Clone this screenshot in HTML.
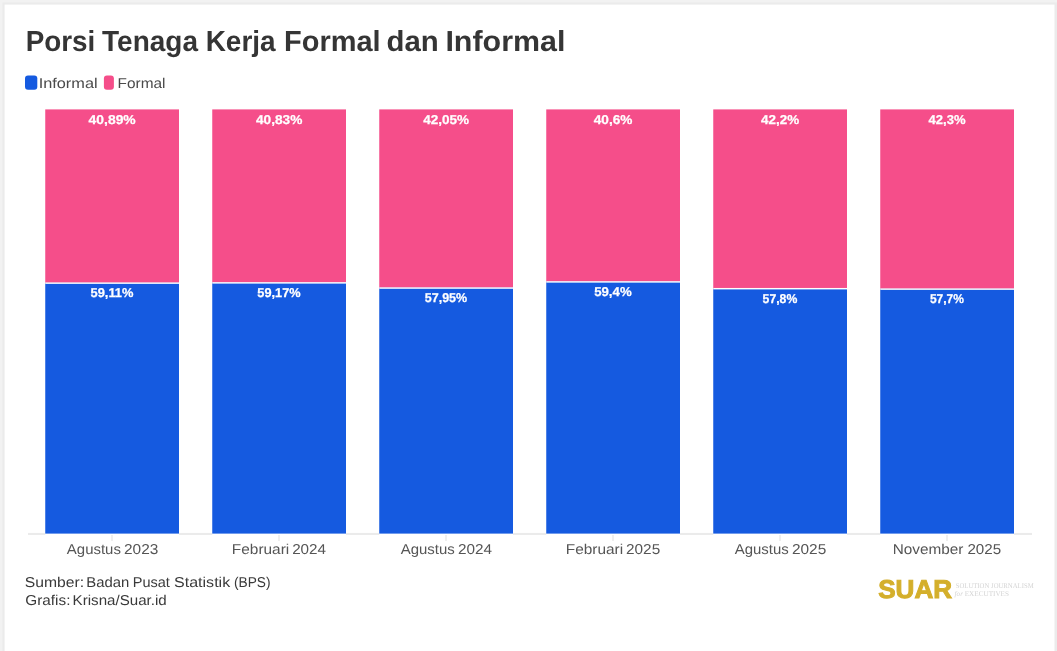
<!DOCTYPE html>
<html><head><meta charset="utf-8"><title>Porsi Tenaga Kerja Formal dan Informal</title>
<style>
html,body{margin:0;padding:0;}
body{width:1057px;height:651px;overflow:hidden;background:#f2f2f2;position:relative;font-family:"Liberation Sans",sans-serif;}
.t{position:absolute;white-space:nowrap;line-height:1;transform-origin:0 0;}
.wrap{position:absolute;left:0;top:0;width:1057px;height:651px;will-change:transform;text-rendering:geometricPrecision;}
.title{font-weight:bold;color:#353535;}
.leg{color:#4a4a4a;}
.lab{font-weight:bold;color:#fff;-webkit-text-stroke:0.25px #fff;}
.xl{color:#555;}
.foot{color:#3a3a3a;}
.suar{font-weight:bold;color:#d4af2b;-webkit-text-stroke:1px #d4af2b;}
.tag{font-family:"Liberation Serif",serif;color:#d4d4d4;}
</style></head><body>
<svg width="1057" height="651" viewBox="0 0 1057 651" style="position:absolute;left:0;top:0;">
<rect x="2.4" y="2.4" width="1060" height="660" fill="#ebebeb"/>
<rect x="4.6" y="4.6" width="1049.9" height="660" fill="#fff"/>
<rect x="25" y="75.4" width="12.3" height="14.4" rx="3" ry="3" fill="#155ae0"/>
<rect x="103.9" y="75.4" width="10" height="14.4" rx="3" ry="3" fill="#f54e8a"/>
<rect x="28" y="532.95" width="1004" height="2" fill="#ebebeb"/>
<rect x="45.25" y="532.60" width="133.75" height="3" fill="#fff"/>
<rect x="45.25" y="109.4" width="133.75" height="173.96" fill="#f54e8a"/>
<rect x="45.25" y="282.86" width="133.75" height="250.74" fill="#155ae0"/>
<rect x="45.25" y="282.41" width="133.75" height="1.45" fill="#fff"/>
<rect x="111.03" y="535" width="2" height="6" fill="#efefef"/>
<rect x="212.25" y="532.60" width="133.75" height="3" fill="#fff"/>
<rect x="212.25" y="109.4" width="133.75" height="173.70" fill="#f54e8a"/>
<rect x="212.25" y="282.60" width="133.75" height="251.00" fill="#155ae0"/>
<rect x="212.25" y="282.15" width="133.75" height="1.45" fill="#fff"/>
<rect x="278.02" y="535" width="2" height="6" fill="#efefef"/>
<rect x="379.25" y="532.60" width="133.75" height="3" fill="#fff"/>
<rect x="379.25" y="109.4" width="133.75" height="178.88" fill="#f54e8a"/>
<rect x="379.25" y="287.78" width="133.75" height="245.82" fill="#155ae0"/>
<rect x="379.25" y="287.33" width="133.75" height="1.45" fill="#fff"/>
<rect x="445.02" y="535" width="2" height="6" fill="#efefef"/>
<rect x="546.25" y="532.60" width="133.75" height="3" fill="#fff"/>
<rect x="546.25" y="109.4" width="133.75" height="172.73" fill="#f54e8a"/>
<rect x="546.25" y="281.63" width="133.75" height="251.97" fill="#155ae0"/>
<rect x="546.25" y="281.18" width="133.75" height="1.45" fill="#fff"/>
<rect x="612.02" y="535" width="2" height="6" fill="#efefef"/>
<rect x="713.25" y="532.60" width="133.75" height="3" fill="#fff"/>
<rect x="713.25" y="109.4" width="133.75" height="179.51" fill="#f54e8a"/>
<rect x="713.25" y="288.41" width="133.75" height="245.19" fill="#155ae0"/>
<rect x="713.25" y="287.96" width="133.75" height="1.45" fill="#fff"/>
<rect x="779.02" y="535" width="2" height="6" fill="#efefef"/>
<rect x="880.25" y="532.60" width="133.75" height="3" fill="#fff"/>
<rect x="880.25" y="109.4" width="133.75" height="179.94" fill="#f54e8a"/>
<rect x="880.25" y="288.84" width="133.75" height="244.76" fill="#155ae0"/>
<rect x="880.25" y="288.39" width="133.75" height="1.45" fill="#fff"/>
<rect x="946.02" y="535" width="2" height="6" fill="#efefef"/>
</svg>
<div class="wrap">
<div class="t title" id="tw0" style="left:0;top:28px;font-size:29.0px;transform:translateX(25.68px) scaleX(0.9597);">Porsi</div>
<div class="t title" id="tw1" style="left:0;top:28px;font-size:29.0px;transform:translateX(102.06px) scaleX(0.9649);">Tenaga</div>
<div class="t title" id="tw2" style="left:0;top:28px;font-size:29.0px;transform:translateX(205.67px) scaleX(0.9646);">Kerja</div>
<div class="t title" id="tw3" style="left:0;top:28px;font-size:29.0px;transform:translateX(284.10px) scaleX(0.9985);">Formal</div>
<div class="t title" id="tw4" style="left:0;top:28px;font-size:29.0px;transform:translateX(386.46px) scaleX(1.0119);">dan</div>
<div class="t title" id="tw5" style="left:0;top:28px;font-size:29.0px;transform:translateX(445.40px) scaleX(1.0491);">Informal</div>
<div class="t leg" id="leg1" style="left:0;top:77px;font-size:14.2px;transform:translateX(38.68px) scaleX(1.1491);">Informal</div>
<div class="t leg" id="leg2" style="left:0;top:77px;font-size:14.2px;transform:translateX(117.56px) scaleX(1.0859);">Formal</div>
<div class="t lab" id="f0" style="left:0;top:114px;font-size:12.8px;transform:translateX(88.62px) scaleX(1.0847);">40,89%</div>
<div class="t lab" id="i0" style="left:0;top:287px;font-size:12.8px;transform:translateX(90.54px) scaleX(1.0055);">59,11%</div>
<div class="t xl" id="x0a" style="left:0;top:543px;font-size:14.3px;transform:translateX(66.85px) scaleX(1.0462);">Agustus</div>
<div class="t xl" id="x0b" style="left:0;top:543px;font-size:14.3px;transform:translateX(124.02px) scaleX(1.0785);">2023</div>
<div class="t lab" id="f1" style="left:0;top:114px;font-size:12.8px;transform:translateX(255.97px) scaleX(1.0683);">40,83%</div>
<div class="t lab" id="i1" style="left:0;top:287px;font-size:12.8px;transform:translateX(257.35px) scaleX(0.9967);">59,17%</div>
<div class="t xl" id="x1a" style="left:0;top:543px;font-size:14.3px;transform:translateX(231.84px) scaleX(1.0785);">Februari</div>
<div class="t xl" id="x1b" style="left:0;top:543px;font-size:14.3px;transform:translateX(292.13px) scaleX(1.0650);">2024</div>
<div class="t lab" id="f2" style="left:0;top:114px;font-size:12.8px;transform:translateX(423.23px) scaleX(1.0565);">42,05%</div>
<div class="t lab" id="i2" style="left:0;top:292px;font-size:12.8px;transform:translateX(424.76px) scaleX(0.9777);">57,95%</div>
<div class="t xl" id="x2a" style="left:0;top:543px;font-size:14.3px;transform:translateX(400.75px) scaleX(1.0462);">Agustus</div>
<div class="t xl" id="x2b" style="left:0;top:543px;font-size:14.3px;transform:translateX(457.92px) scaleX(1.0699);">2024</div>
<div class="t lab" id="f3" style="left:0;top:114px;font-size:12.8px;transform:translateX(593.77px) scaleX(1.0648);">40,6%</div>
<div class="t lab" id="i3" style="left:0;top:286px;font-size:12.8px;transform:translateX(594.17px) scaleX(1.0329);">59,4%</div>
<div class="t xl" id="x3a" style="left:0;top:543px;font-size:14.3px;transform:translateX(565.74px) scaleX(1.0785);">Februari</div>
<div class="t xl" id="x3b" style="left:0;top:543px;font-size:14.3px;transform:translateX(626.02px) scaleX(1.0735);">2025</div>
<div class="t lab" id="f4" style="left:0;top:114px;font-size:12.8px;transform:translateX(761.03px) scaleX(1.0508);">42,2%</div>
<div class="t lab" id="i4" style="left:0;top:293px;font-size:12.8px;transform:translateX(762.58px) scaleX(0.9563);">57,8%</div>
<div class="t xl" id="x4a" style="left:0;top:543px;font-size:14.3px;transform:translateX(734.75px) scaleX(1.0462);">Agustus</div>
<div class="t xl" id="x4b" style="left:0;top:543px;font-size:14.3px;transform:translateX(791.92px) scaleX(1.0785);">2025</div>
<div class="t lab" id="f5" style="left:0;top:114px;font-size:12.8px;transform:translateX(928.59px) scaleX(1.0199);">42,3%</div>
<div class="t lab" id="i5" style="left:0;top:293px;font-size:12.8px;transform:translateX(929.89px) scaleX(0.9393);">57,7%</div>
<div class="t xl" id="x5a" style="left:0;top:543px;font-size:14.3px;transform:translateX(892.72px) scaleX(1.0725);">November</div>
<div class="t xl" id="x5b" style="left:0;top:543px;font-size:14.3px;transform:translateX(967.38px) scaleX(1.0620);">2025</div>
<div class="t foot" id="fa0" style="left:0;top:576px;font-size:14.3px;transform:translateX(24.80px) scaleX(1.0975);">Sumber:</div>
<div class="t foot" id="fa1" style="left:0;top:576px;font-size:14.3px;transform:translateX(86.29px) scaleX(1.0402);">Badan</div>
<div class="t foot" id="fa2" style="left:0;top:576px;font-size:14.3px;transform:translateX(132.71px) scaleX(1.0153);">Pusat</div>
<div class="t foot" id="fa3" style="left:0;top:576px;font-size:14.3px;transform:translateX(174.08px) scaleX(1.1200);">Statistik</div>
<div class="t foot" id="fa4" style="left:0;top:576px;font-size:14.3px;transform:translateX(234.03px) scaleX(0.9585);">(BPS)</div>
<div class="t foot" id="fb0" style="left:0;top:594px;font-size:14.3px;transform:translateX(25.37px) scaleX(1.0690);">Grafis:</div>
<div class="t foot" id="fb1" style="left:0;top:594px;font-size:14.3px;transform:translateX(72.62px) scaleX(1.0578);">Krisna/Suar.id</div>
<div class="t suar" id="suar" style="left:0;top:578px;font-size:25.7px;transform:translateX(878.20px) scaleX(1.0147);">SUAR</div>
<div class="t tag" id="tag1" style="left:0;top:583px;font-size:7.2px;transform:translateX(955.66px) scaleX(0.9369);">SOLUTION JOURNALISM</div>
<div class="t tag" id="tag2" style="left:0;top:591px;font-size:7.2px;transform:translateX(954.55px) scaleX(0.9982);"><i>for</i> EXECUTIVES</div>
</div>
</body></html>
